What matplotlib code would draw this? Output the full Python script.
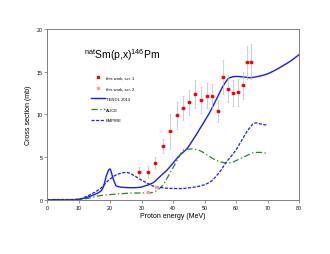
import numpy as np
import matplotlib
matplotlib.use('Agg')
import matplotlib.pyplot as plt

plt.rcParams['font.family'] = ['Liberation Sans', 'DejaVu Sans']
plt.rcParams['mathtext.fontset'] = 'custom'
plt.rcParams['mathtext.rm'] = 'Liberation Sans'

# measured data, series 1
e1 = [29.2, 31.9, 34.4, 36.8, 39.0, 41.1, 43.1, 45.1, 47.0, 48.9,
      50.8, 52.5, 54.2, 55.9, 57.5, 59.0, 60.6, 62.1, 63.5, 64.7]
s1 = [3.2, 3.3, 4.3, 6.3, 8.0, 9.9, 10.8, 11.4, 12.4, 11.7,
      12.2, 12.1, 10.4, 14.4, 13.0, 12.5, 12.6, 13.4, 16.1, 16.2]
ds1 = [0.6, 0.7, 0.7, 0.8, 2.0, 1.6, 1.4, 1.5, 1.6, 1.5,
       1.5, 1.5, 1.3, 2.0, 1.6, 1.5, 1.6, 1.6, 1.9, 2.0]
de1 = [0.6] * len(e1)

# measured data, series 2
e2 = [31.9, 34.7]
s2 = [0.85, 1.5]

# TENDL-2013
e_tendl = [0, 8, 10, 12, 15, 17, 17.8, 18.8, 19.9, 21, 22, 24, 27, 29.4, 31,
           33.7, 35.5, 37.9, 40, 42.1, 44.2, 46.3, 48.5, 50, 51.6, 53.8, 56,
           58, 60, 62, 64.3, 67, 69.6, 72, 74.9, 77.5, 80]
s_tendl = [0, 0, 0.05, 0.2, 0.6, 1.0, 1.45, 2.8, 3.6, 2.4, 1.6, 1.45, 1.4, 1.45,
           1.6, 2.0, 2.6, 3.4, 4.3, 5.2, 5.9, 7.0, 8.3, 9.2, 10.2, 11.8, 13.4,
           14.3, 14.45, 14.4, 14.3, 14.45, 14.7, 15.1, 15.7, 16.3, 17.0]

# ALICE
e_alice = [0, 9, 12, 16.7, 22, 27.3, 31.5, 33, 34.7, 36.5, 37.9, 41, 43.7,
           46.3, 48.5, 50.5, 52.7, 55, 56.9, 58.5, 60.1, 63.3, 65.4, 67.5, 69.6]
s_alice = [0, 0, 0.1, 0.47, 0.66, 0.78, 0.78, 0.82, 1.05, 1.6, 2.4, 4.4, 5.9,
           5.95, 5.75, 5.3, 4.8, 4.45, 4.3, 4.35, 4.6, 5.15, 5.5, 5.55, 5.45]

# EMPIRE
e_empire = [0, 8, 10, 12, 14.5, 16.7, 19.9, 22.5, 25.2, 27.3, 29.4, 31.5, 33.7,
            35.8, 37.9, 42.1, 46.3, 48.5, 50.6, 52.2, 53.8, 55.3, 56.9, 58.5,
            60.1, 61.7, 63.3, 64.5, 65.4, 66.5, 67.5, 69.6]
s_empire = [0, 0, 0.05, 0.3, 0.75, 1.25, 2.4, 3.0, 3.2, 2.9, 2.4, 2.0, 1.6,
            1.45, 1.35, 1.3, 1.45, 1.6, 1.85, 2.2, 2.8, 3.5, 4.4, 5.1, 5.9,
            6.9, 7.9, 8.5, 8.9, 9.0, 8.9, 8.75]


def pchip(x, y, n=600):
    # monotone cubic through the read-off points, so the curves look smooth
    x = np.asarray(x, float)
    y = np.asarray(y, float)
    h = np.diff(x)
    d = np.diff(y) / h
    m = np.zeros_like(y)
    for k in range(1, len(x) - 1):
        if d[k - 1] * d[k] > 0:
            w1 = 2 * h[k] + h[k - 1]
            w2 = h[k] + 2 * h[k - 1]
            m[k] = (w1 + w2) / (w1 / d[k - 1] + w2 / d[k])
    m[0] = d[0]
    m[-1] = d[-1]
    xs = np.linspace(x[0], x[-1], n)
    i = np.clip(np.searchsorted(x, xs) - 1, 0, len(x) - 2)
    t = (xs - x[i]) / h[i]
    h00 = 2 * t**3 - 3 * t**2 + 1
    h10 = t**3 - 2 * t**2 + t
    h01 = -2 * t**3 + 3 * t**2
    h11 = t**3 - t**2
    ys = h00 * y[i] + h10 * h[i] * m[i] + h01 * y[i + 1] + h11 * h[i] * m[i + 1]
    return xs, ys


fig = plt.figure(figsize=(3.3, 2.55), dpi=100)
ax = fig.add_axes([0.143, 0.213, 0.763, 0.669])

blue = '#1a1aff'
green = '#1e8c1e'

eb = ax.errorbar(e1, s1, yerr=ds1, xerr=de1, fmt='s', color='red', ms=1.8,
                 ecolor='#bdbdbd', elinewidth=0.5, capsize=0.8, capthick=0.4,
                 zorder=4)
p2, = ax.plot(e2, s2, 's', color='#ff9a9a', ms=1.8, zorder=4)
lt, = ax.plot(*pchip(e_tendl, s_tendl), '-', color=blue, lw=1.0)
la, = ax.plot(*pchip(e_alice, s_alice), color=green, lw=0.9, dashes=(5, 2, 1, 2))
le, = ax.plot(*pchip(e_empire, s_empire), color=blue, lw=0.9, dashes=(2.5, 1.2))

ax.set_xlim(0, 80)
ax.set_ylim(0, 20)
ax.set_xticks(range(0, 81, 10))
ax.set_yticks(range(0, 21, 5))
ax.tick_params(labelsize=3.8, length=2, width=0.5, pad=1.5, color='#666666')
for sp in ax.spines.values():
    sp.set_color('#808080')
    sp.set_linewidth(0.7)

ax.set_xlabel('Proton energy (MeV)', fontsize=5, labelpad=2)
ax.set_ylabel('Cross section (mb)', fontsize=5, labelpad=3)

ax.text(11.7, 17.1, r'$^{\mathrm{nat}}$Sm(p,x)$^{\mathrm{146}}$Pm', fontsize=7.5,
        va='center')

p1, = ax.plot([], [], 's', color='red', ms=1.8)
ax.legend([p1, p2, lt, la, le],
          ['this work, scr. 1', 'this work, scr. 2', 'TENDL 2013', 'ALICE', 'EMPIRE'],
          loc='upper left', bbox_to_anchor=(0.165, 0.74), fontsize=3,
          frameon=False, handlelength=3.5, handletextpad=0.1,
          labelspacing=1.6, borderpad=0)

fig.savefig('out.png', dpi=100)
